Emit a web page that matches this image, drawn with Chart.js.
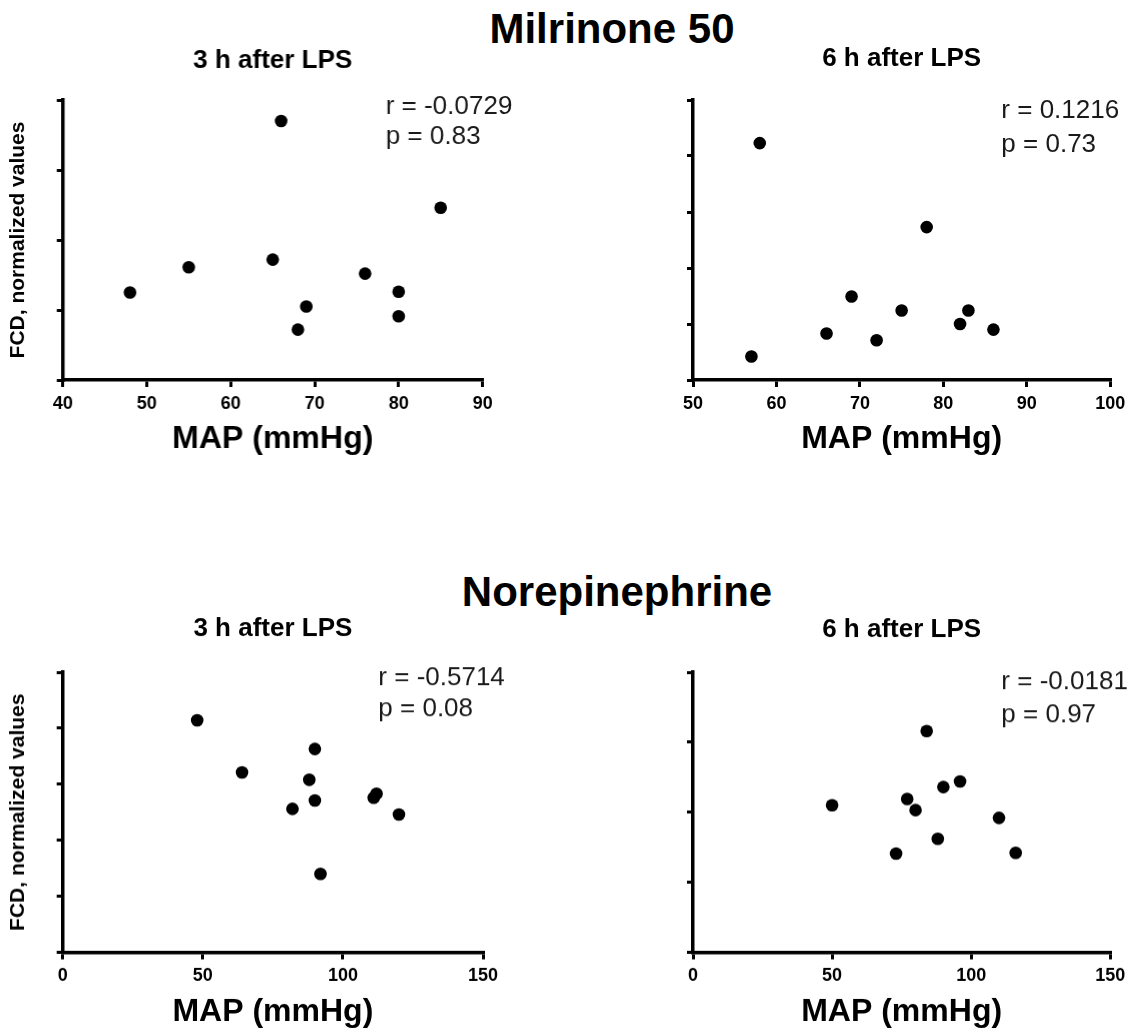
<!DOCTYPE html>
<html>
<head>
<meta charset="utf-8">
<script src="https://cdn.jsdelivr.net/npm/chart.js@4.4.1/dist/chart.umd.min.js"></script>
<style>
  body { margin: 0; background: #fff; width: 1131px; height: 1036px; position: relative; overflow: hidden;
         font-family: "Liberation Sans", Arial, sans-serif; }
  .box { position: absolute; }
  .head { position: absolute; font-weight: bold; font-size: 42px; line-height: 42px; white-space: nowrap;
          transform: translateX(-50%); color: #000; }
</style>
</head>
<body>
<div class="head" style="left:612px; top:8px">Milrinone 50</div>
<div class="head" style="left:617px; top:571px">Norepinephrine</div>
<div class="box" id="b0"><canvas id="c0"></canvas></div>
<div class="box" id="b1"><canvas id="c1"></canvas></div>
<div class="box" id="b2"><canvas id="c2"></canvas></div>
<div class="box" id="b3"><canvas id="c3"></canvas></div>
<script>
// MAP (x) and normalized FCD (y) per panel
const milri3hMAP = [48, 55, 65, 66, 69, 68, 76, 80, 80, 85];
const milri3hFCD = [1.25, 1.61, 1.72, 3.70, 1.05, 0.72, 1.52, 1.26, 0.91, 2.46];
const milri6hMAP = [57, 58, 66, 69, 72, 75, 78, 82, 83, 86];
const milri6hFCD = [0.42, 4.23, 0.83, 1.49, 0.71, 1.24, 2.73, 1.00, 1.24, 0.90];
const norepi3hMAP = [48, 64, 90, 88, 90, 82, 92, 111, 112, 120];
const norepi3hFCD = [4.14, 3.21, 3.63, 3.08, 2.71, 2.56, 1.40, 2.76, 2.83, 2.46];
const norepi6hMAP = [50, 84, 77, 80, 90, 96, 88, 73, 110, 116];
const norepi6hFCD = [2.10, 3.16, 2.19, 2.03, 2.36, 2.44, 1.62, 1.41, 1.92, 1.42];

const subtitles = ['3 h after LPS', '6 h after LPS', '3 h after LPS', '6 h after LPS'];
const statR = ['r = -0.0729', 'r = 0.1216', 'r = -0.5714', 'r = -0.0181'];
const statP = ['p = 0.83', 'p = 0.73', 'p = 0.08', 'p = 0.97'];
const xMin = [40, 50, 0, 0];
const xMax = [90, 100, 150, 150];
const xStep = [10, 10, 50, 50];
const yMax = [4, 5, 5, 4];
const xTitle = 'MAP (mmHg)';
const yTitle = 'FCD, normalized values';

const xs = [milri3hMAP, milri6hMAP, norepi3hMAP, norepi6hMAP];
const ys = [milri3hFCD, milri6hFCD, norepi3hFCD, norepi6hFCD];

const FONT = '"Liberation Sans", Arial, sans-serif';
const SUB = 26; // subtitle font size

// where each plot box sits on the page
const geo = [
  {plotL: 62.7, plotR: 481.7, plotT: 100, plotB: 380, yw: 62.7, padR: 55, subY: 60.5, fx: 0.769, dy: [7, 37]},
  {plotL: 692.7, plotR: 1113.3, plotT: 100, plotB: 380, yw: 20, padR: 17.7, subY: 59, fx: 0.739, dy: [11, 45]},
  {plotL: 62.7, plotR: 483, plotT: 672, plotB: 951.5, yw: 62.7, padR: 55, subY: 629, fx: 0.751, dy: [6, 37]},
  {plotL: 692.7, plotR: 1113.3, plotT: 672, plotB: 951.5, yw: 20, padR: 17.7, subY: 629.5, fx: 0.739, dy: [9.5, 43]},
];

const statsText = {
  id: 'statsText',
  afterDatasetsDraw(chart, args, opts) {
    const {ctx, chartArea} = chart;
    ctx.save();
    ctx.font = '26px ' + FONT;
    ctx.fillStyle = '#1a1a1a';
    ctx.textBaseline = 'middle';
    ctx.textAlign = 'left';
    const x = chartArea.left + opts.fx * (chartArea.right - chartArea.left);
    ctx.fillText(opts.r, x, chartArea.top + opts.dy[0]);
    ctx.fillText(opts.p, x, chartArea.top + opts.dy[1]);
    ctx.restore();
  }
};

geo.forEach((g, i) => {
  const box = document.getElementById('b' + i);
  const left = g.plotL - g.yw;
  const top = g.plotT - 60;
  box.style.left = left + 'px';
  box.style.top = top + 'px';
  box.style.width = (g.plotR + g.padR - left) + 'px';
  box.style.height = (g.plotB + 80.4 - top) + 'px';
  const padTop = g.subY - top - SUB * 0.6;

  new Chart(document.getElementById('c' + i), {
    type: 'scatter',
    data: {
      datasets: [{
        data: xs[i].map((x, k) => ({x: x, y: ys[i][k]})),
        backgroundColor: '#000',
        borderWidth: 0,
        pointRadius: 6.3,
        pointHoverRadius: 6.3,
      }]
    },
    options: {
      responsive: true,
      maintainAspectRatio: false,
      animation: false,
      clip: false,
      layout: { padding: { left: 0, top: 0, bottom: 0, right: g.padR } },
      plugins: {
        legend: { display: false },
        tooltip: { enabled: false },
        title: {
          display: true,
          text: subtitles[i],
          fullSize: false,
          color: '#000',
          font: { family: FONT, size: SUB, weight: 'bold' },
          padding: { top: padTop, bottom: 60 - padTop - SUB * 1.2 }
        },
        statsText: { r: statR[i], p: statP[i], fx: g.fx, dy: g.dy }
      },
      scales: {
        x: {
          type: 'linear',
          min: xMin[i],
          max: xMax[i],
          ticks: { stepSize: xStep[i], color: '#000', padding: 6, maxRotation: 0,
                   font: { family: FONT, size: 18, weight: 'bold' } },
          grid: { drawOnChartArea: false, drawTicks: true, tickLength: 7, color: '#000', lineWidth: 3 },
          border: { display: true, color: '#000', width: 3.5 },
          title: { display: true, text: xTitle, color: '#000',
                   font: { family: FONT, size: 32, weight: 'bold' }, padding: { top: 0, bottom: 2 } },
          afterFit: (s) => { s.height = 80.4; }
        },
        y: {
          min: 0,
          max: yMax[i],
          ticks: { display: false, stepSize: 1 },
          grid: { drawOnChartArea: false, drawTicks: true, tickLength: 6, color: '#000', lineWidth: 3 },
          border: { display: true, color: '#000', width: 3.5 },
          title: { display: i % 2 === 0, text: yTitle, color: '#000',
                   font: { family: FONT, size: 21, weight: 'bold' }, padding: { top: 6, bottom: 0 } },
          afterFit: (s) => { s.width = g.yw; }
        }
      }
    },
    plugins: [statsText]
  });
});
</script>
</body>
</html>
